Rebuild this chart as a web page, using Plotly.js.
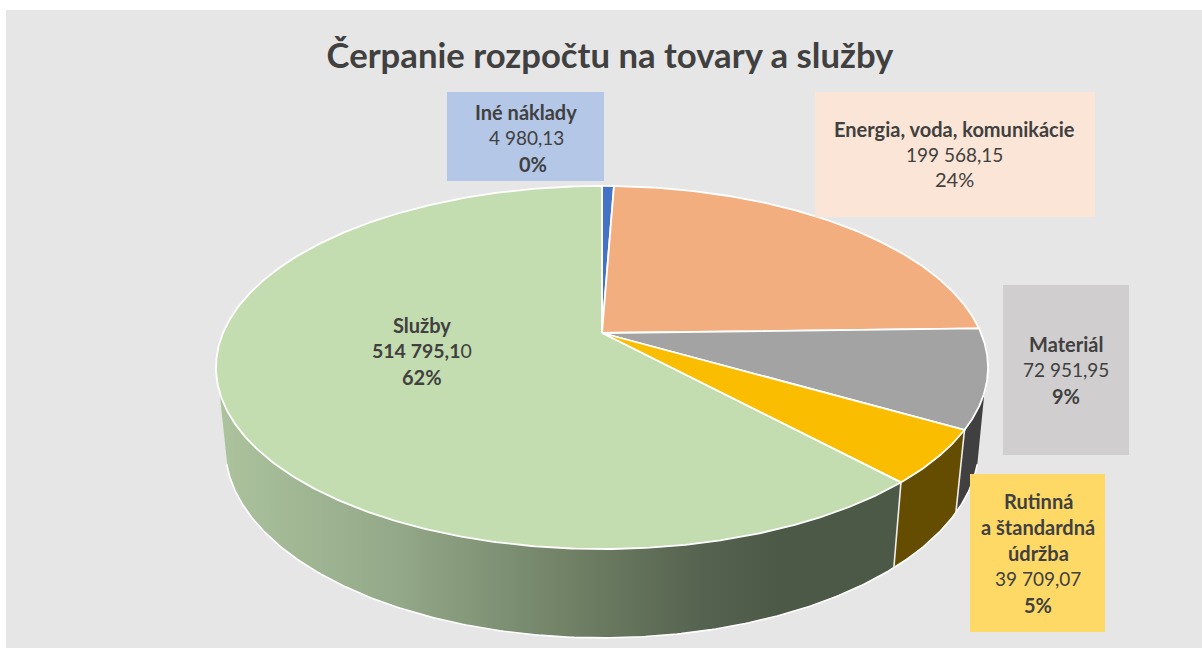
<!DOCTYPE html>
<html>
<head>
<meta charset="utf-8">
<script src="https://cdn.plot.ly/plotly-3.0.1.min.js"></script>
<style>html,body{margin:0;padding:0;background:#fff}#chart{width:1202px;height:648px}</style>
</head>
<body>
<div id="chart"></div>
<script>
// Data, in chart order (clockwise from the top)
const categories = ['Iné náklady', 'Energia, voda, komunikácie', 'Materiál', 'Rutinná a štandardná údržba', 'Služby'];
const values = [4980.13, 199568.15, 72951.95, 39709.07, 514795.10];
const percents = ['0%', '24%', '9%', '5%', '62%'];
const valueLabels = ['4 980,13', '199 568,15', '72 951,95', '39 709,07', '514 795,10'];

// Styles
const topColors = ['#4472c4', '#f3ae80', '#a3a3a3', '#fbbd00', '#c4ddb0'];
const boxColors = ['#b4c7e7', '#fbe5d6', '#d0cece', '#ffd966', null];
const textColor = '#404040';
const fontFamily = 'Lato, sans-serif';

// Projection of the 3D disc
const cx = 602, topApexY = 333, topR = 379, topH = 175, k = 0.19;
const botApexY = 410.7, botR = 370, botH = 184;
function project(deg, R, H, y0) {
  const a = deg * Math.PI / 180, u = Math.sin(a), v = Math.cos(a), w = 1 + k * v;
  return [cx + R * u / w, y0 - H * v / w];
}
const topPt = d => project(d, topR, topH, topApexY);
const botPt = d => project(d, botR, botH, botApexY);
function arc(fn, a, b) {
  const n = Math.max(2, Math.ceil(Math.abs(b - a) * 2)), pts = [];
  for (let i = 0; i <= n; i++) pts.push(fn(a + (b - a) * i / n));
  return pts;
}
const total = values.reduce((s, v) => s + v, 0);
const edges = [0];
values.forEach(v => edges.push(edges[edges.length - 1] + v / total * 360));

const silTopR = 108.5, silTopL = 251.5, silBotR = 106, silBotL = 254;
const traces = [];
function poly(pts, extra) {
  traces.push(Object.assign({
    type: 'scatter', mode: 'lines', x: pts.map(p => p[0]), y: pts.map(p => p[1]),
    hoverinfo: 'skip', showlegend: false
  }, extra));
}
function wall(a, b, a2, b2) {
  return arc(topPt, a, b).concat(arc(botPt, b2, a2));
}
// Walls
poly(wall(silTopR, edges[3], silBotR, edges[3]), {fill: 'toself', fillcolor: '#404040', line: {width: 0}});
poly(wall(edges[3], edges[4], edges[3], edges[4]), {fill: 'toself', fillcolor: '#644c00', line: {width: 0}});
poly(wall(edges[4], silTopL, edges[4], silBotL), {
  fill: 'toself', line: {width: 0},
  fillgradient: {type: 'horizontal', start: 225, stop: 780,
    colorscale: [[0, '#abc29d'], [0.315, '#93a888'], [0.676, '#6a7a60'], [0.856, '#566350'], [1, '#4d5947']]}
});
// Wall outlines
poly(arc(botPt, silBotR, silBotL), {line: {color: '#ffffff', width: 1.6}});
[edges[3], edges[4]].forEach(d => poly([topPt(d), botPt(d)], {line: {color: '#eeeeee', width: 1.6}}));
// Top surface
values.forEach((v, i) => {
  const pts = [[cx, topApexY]].concat(arc(topPt, edges[i], edges[i + 1]));
  pts.push([cx, topApexY]);
  poly(pts, {fill: 'toself', fillcolor: topColors[i], line: {color: '#ffffff', width: 1.8}});
});

// Label boxes [x0, y0, x1, y1]
const boxes = [[447, 92, 604, 181], [815, 92, 1095, 217], [1003, 285, 1129, 455], [970, 474, 1105, 632], null];
const shapes = [{type: 'rect', xref: 'x', yref: 'y', x0: 6, y0: 10, x1: 1202, y1: 648,
  fillcolor: '#e6e6e6', line: {width: 0}, layer: 'below'}];
boxes.forEach((b, i) => {
  if (b) shapes.push({type: 'rect', xref: 'x', yref: 'y', x0: b[0], y0: b[1], x1: b[2], y1: b[3],
    fillcolor: boxColors[i], line: {width: 0}, layer: 'above'});
});

// Label lines: [text, font size, x offset]
const labelLines = [
  [['<b>' + categories[0] + '</b>', 20, 0], [valueLabels[0], 19, 0], ['<b>' + percents[0] + '</b>', 20, 7]],
  [['<b>' + categories[1] + '</b>', 20, 0], [valueLabels[1], 19, 0], [percents[1], 20, 0]],
  [['<b>' + categories[2] + '</b>', 20, 0], [valueLabels[2], 19, 0], ['<b>' + percents[2] + '</b>', 20, 0]],
  [['<b>Rutinná</b>', 20, 0], ['<b>a štandardná</b>', 20, 0], ['<b>údržba</b>', 20, 0], [valueLabels[3], 19, 0], ['<b>' + percents[3] + '</b>', 20, 0]],
  [['<b>' + categories[4] + '</b>', 20, 0], ['<b>514 795,1</b>0', 19.5, 0], ['<b>' + percents[4] + '</b>', 20, 0]]
];
const labelX = [526, 954, 1066, 1038, 422];
const labelY = [112, 129, 344, 501, 325];
const lineGaps = [25.9, 25.2, 25.9, 25.9, 25.9];
const annotations = [];
labelLines.forEach((lines, i) => lines.forEach((t, j) => annotations.push({
  xref: 'x', yref: 'y', x: labelX[i] + t[2], y: labelY[i] + j * lineGaps[i], text: t[0], showarrow: false,
  xanchor: 'center', yanchor: 'middle', font: {family: fontFamily, size: t[1], color: textColor}
})));

Plotly.newPlot('chart', traces, {
  width: 1202, height: 648,
  margin: {l: 0, r: 0, t: 0, b: 0},
  paper_bgcolor: '#ffffff', plot_bgcolor: 'rgba(0,0,0,0)',
  showlegend: false,
  title: {text: '<b>Čerpanie rozpočtu na tovary a služby</b>', xref: 'paper', yref: 'paper',
    x: 610 / 1202, xanchor: 'center', y: 1 - 56 / 648, yanchor: 'middle',
    font: {family: fontFamily, size: 34.7, color: textColor}},
  xaxis: {range: [0, 1202], visible: false, fixedrange: true},
  yaxis: {range: [648, 0], visible: false, fixedrange: true},
  shapes, annotations
}, {displayModeBar: false, staticPlot: true});
</script>
</body>
</html>
